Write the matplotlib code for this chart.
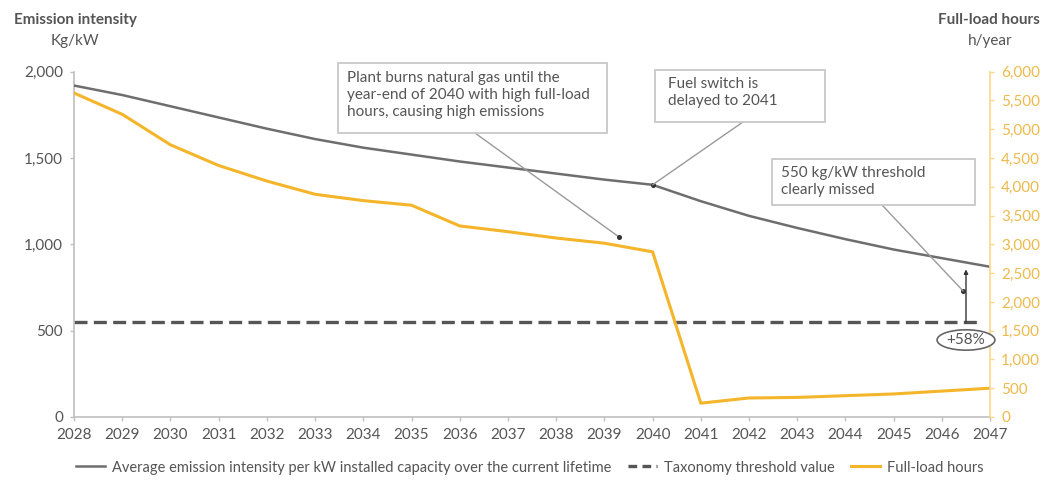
import matplotlib
matplotlib.use("Agg")
import matplotlib.pyplot as plt
from matplotlib.lines import Line2D
from matplotlib.patches import Ellipse, Rectangle
from matplotlib.ticker import FuncFormatter, MultipleLocator

plt.rcParams['font.family'] = ['Lato', 'DejaVu Sans']

years = list(range(2028, 2048))
emission_intensity = [1920, 1865, 1800, 1735, 1670, 1610, 1560, 1520, 1480, 1445,
                      1410, 1375, 1345, 1250, 1165, 1095, 1030, 970, 920, 870]
full_load_hours = [5630, 5260, 4730, 4370, 4100, 3870, 3760, 3680, 3320, 3220,
                   3110, 3020, 2870, 240, 330, 340, 370, 400, 450, 500]
threshold = 550
gap_label = "+58%"

GRAY = "#6e6e6e"
GOLD = "#F5B52A"
GOLD_TEXT = "#EDB94A"
TEXT = "#555555"
FS = 11

fig = plt.figure(figsize=(10.41, 4.82), dpi=100)
ax = fig.add_axes([0.0711, 0.1349, 0.880, 0.7163])
ax2 = ax.twinx()

ax.plot(years, emission_intensity, color=GRAY, lw=1.8, zorder=3)
ax.axhline(threshold, xmin=0, xmax=0.989, color="#555555", lw=2.4,
           dashes=(3.9, 1.9), zorder=2)
ax2.plot(years, full_load_hours, color=GOLD, lw=2.2, zorder=2)

ax.set_xlim(2028, 2047)
ax.set_ylim(0, 2000)
ax2.set_ylim(0, 6000)
ax.set_xticks(years)
ax.yaxis.set_major_locator(MultipleLocator(500))
ax2.yaxis.set_major_locator(MultipleLocator(500))
fmt = FuncFormatter(lambda v, p: f"{int(v):,}")
ax.yaxis.set_major_formatter(fmt)
ax2.yaxis.set_major_formatter(fmt)

for a in (ax, ax2):
    a.spines['top'].set_visible(False)
ax.spines['right'].set_visible(False)
ax.spines['left'].set_color("#bfbfbf")
ax.spines['bottom'].set_color("#bfbfbf")
ax.spines['left'].set_linewidth(1.2)
ax.spines['bottom'].set_linewidth(1.2)
ax2.spines['left'].set_visible(False)
ax2.spines['bottom'].set_visible(False)
ax2.spines['right'].set_color("#F8D88A")
ax2.spines['right'].set_linewidth(1.2)

ax.tick_params(axis='both', colors="#bfbfbf", labelcolor=TEXT, labelsize=FS,
               length=3, width=1)
ax.tick_params(axis='y', pad=5)
ax.tick_params(axis='x', pad=5)
ax2.tick_params(axis='y', colors="#F8D88A", labelcolor=GOLD_TEXT, labelsize=FS,
                length=3, width=1, pad=5)

# axis titles
fig.text(0.072, 0.958, "Emission intensity", ha='center', va='center',
         fontsize=FS, fontweight='bold', color=TEXT)
fig.text(0.072, 0.915, "Kg/kW", ha='center', va='center', fontsize=FS, color=TEXT)
fig.text(0.999, 0.958, "Full-load hours", ha='right', va='center',
         fontsize=FS, fontweight='bold', color=TEXT)
fig.text(0.951, 0.915, "h/year", ha='center', va='center', fontsize=FS, color=TEXT)

line_style = dict(arrowstyle="-", color="#9a9a9a", lw=1.0, shrinkA=0, shrinkB=0)


def callout(text, box, text_xy, anchor, target, target_ax):
    """Boxed note (axes-fraction layout) with a thin leader to a data point."""
    x0, x1, y0, y1 = box
    ax2.add_patch(Rectangle((x0, y0), x1 - x0, y1 - y0, transform=ax2.transAxes,
                            fc="white", ec="#c8c8c8", lw=1.3, zorder=6,
                            clip_on=False))
    ax2.text(*text_xy, text, transform=ax2.transAxes, ha='left', va='top',
             fontsize=FS, color=TEXT, linespacing=1.28, zorder=7)
    ax2.annotate("", xy=target, xycoords=target_ax.transData, xytext=anchor,
                 textcoords='axes fraction', arrowprops=line_style, zorder=5)
    target_ax.plot(*target, marker='o', ms=2.6, color="#333333", zorder=5)


callout("Plant burns natural gas until the\nyear-end of 2040 with high full-load\nhours, causing high emissions",
        (0.288, 0.582, 0.822, 1.025), (0.298, 1.002), (0.438, 0.822),
        (2039.3, 3130), ax2)
callout("Fuel switch is\ndelayed to 2041",
        (0.634, 0.820, 0.854, 1.005), (0.648, 0.985), (0.730, 0.854),
        (2040, emission_intensity[12]), ax)
callout("550 kg/kW threshold\nclearly missed",
        (0.762, 0.983, 0.614, 0.747), (0.772, 0.727), (0.882, 0.614),
        (2046.44, 730), ax)

# gap between the emission line and the threshold
gap_x = 2046.5
ax2.annotate("", xy=(gap_x, 3 * (emission_intensity[-1] - 15)), xytext=(gap_x, 3 * threshold),
             arrowprops=dict(arrowstyle="-|>", color="#333333", lw=1.0,
                             mutation_scale=6, shrinkA=0, shrinkB=0), zorder=5)
ax2.add_patch(Ellipse((gap_x, 3 * 446), 1.2, 3 * 118, fc="white", ec="#666666",
                      lw=1.2, zorder=6, clip_on=False))
ax2.text(gap_x, 3 * 446, gap_label, ha='center', va='center', fontsize=FS,
         color=TEXT, zorder=7)

handles = [
    Line2D([], [], color=GRAY, lw=1.8),
    Line2D([], [], color="#555555", lw=2.4, dashes=(2.6, 1.6)),
    Line2D([], [], color=GOLD, lw=2.2),
]
labels = ["Average emission intensity per kW installed capacity over the current lifetime",
          "Taxonomy threshold value", "Full-load hours"]
fig.legend(handles, labels, loc='center', bbox_to_anchor=(0.509, 0.03), ncol=3,
           frameon=False, fontsize=10.5, labelcolor=TEXT, handlelength=2.0,
           handletextpad=0.5, columnspacing=1.1)

fig.savefig("out.png", dpi=100, facecolor="white")
